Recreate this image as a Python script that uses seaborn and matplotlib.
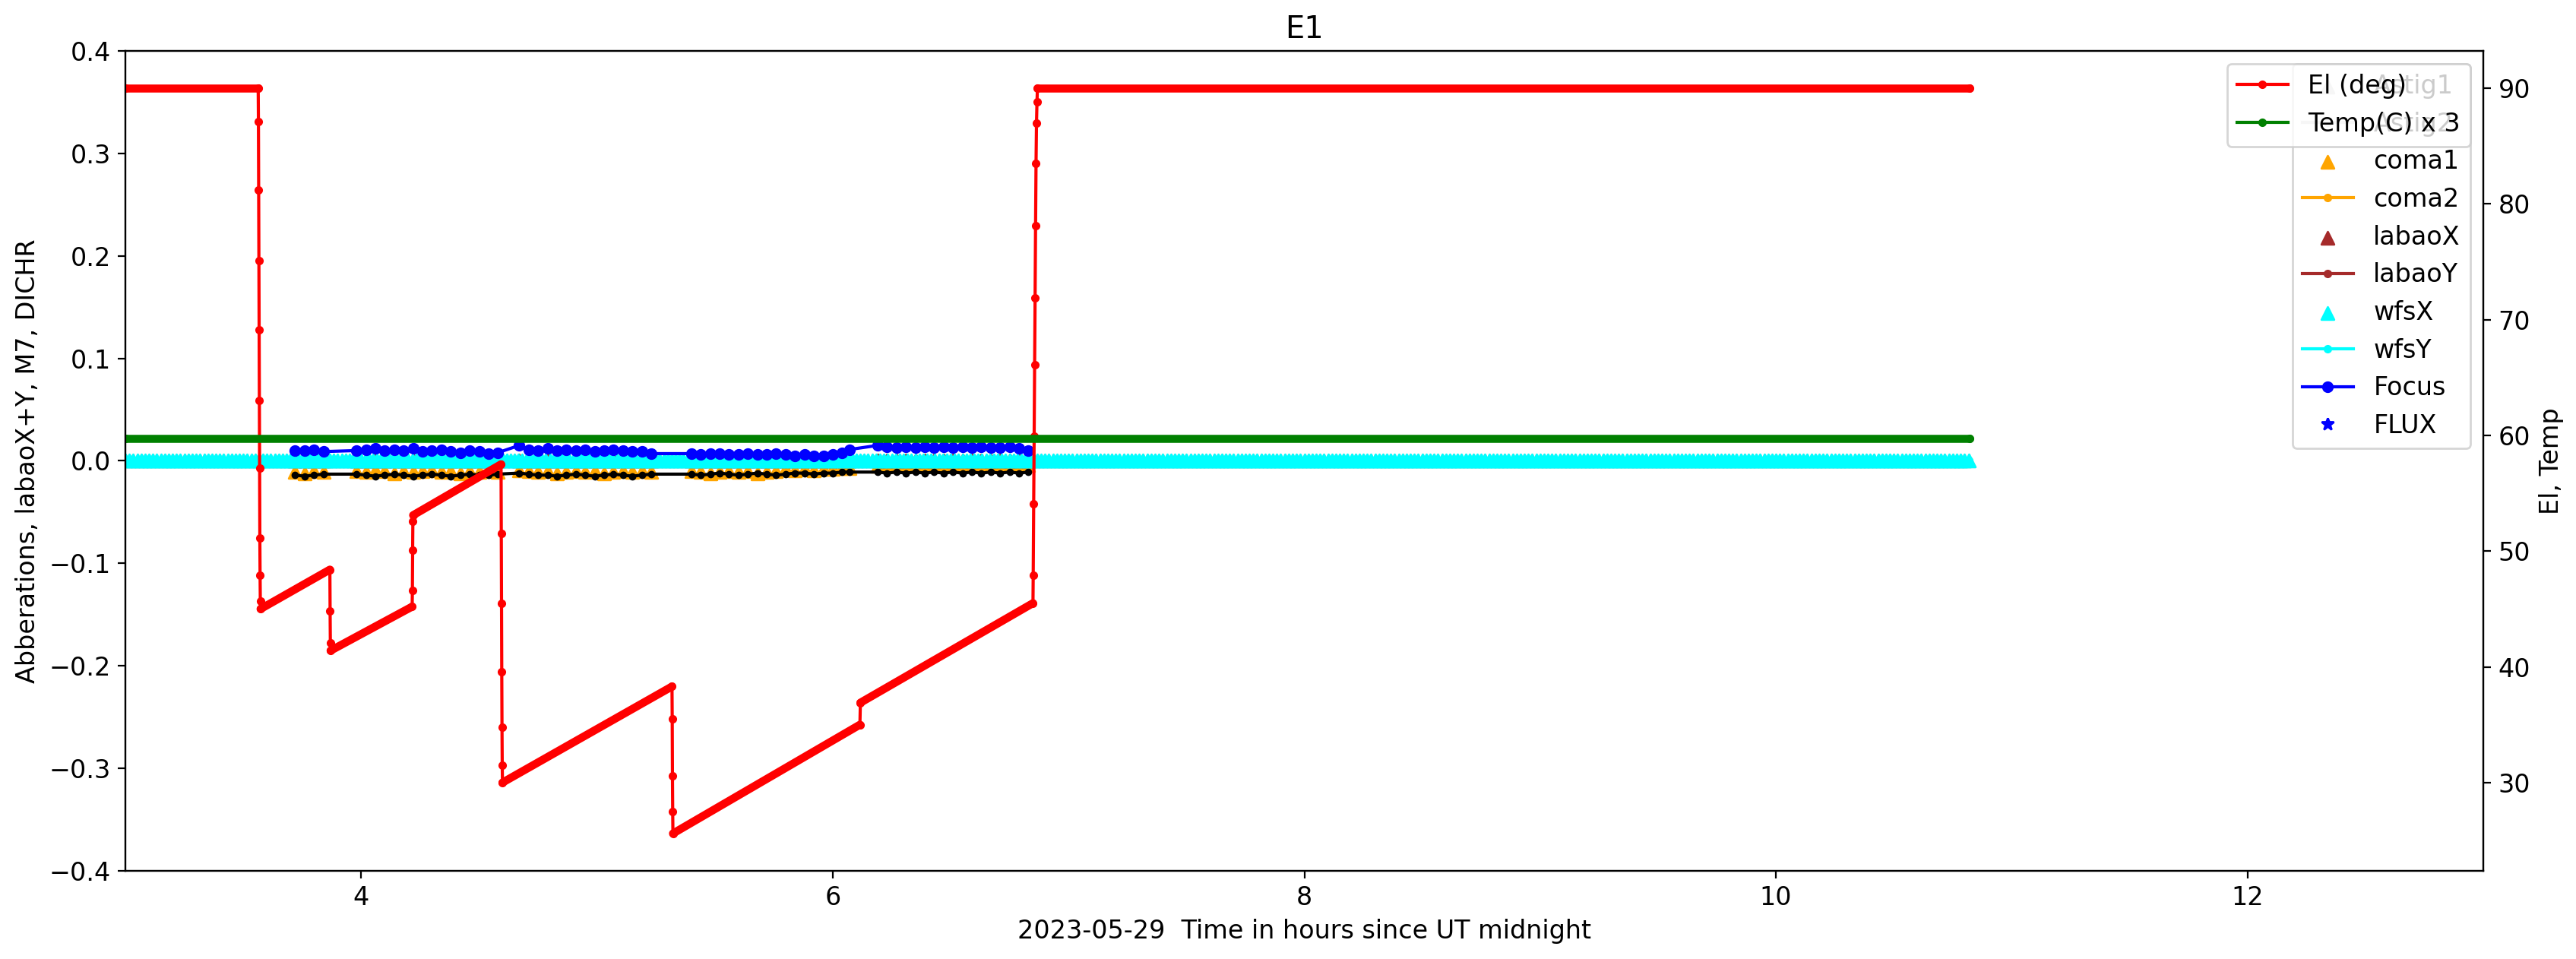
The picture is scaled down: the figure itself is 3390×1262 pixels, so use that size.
import numpy as np
import seaborn as sns
import matplotlib
matplotlib.use('Agg')
import matplotlib.pyplot as plt

# ------------------------------------------------------------
# data read off the E1 night (hours since UT midnight)
# ------------------------------------------------------------

# elevation: tracking end points plus the samples taken during the slews
el_time = [3.00, 3.563,
           3.564, 3.565, 3.566, 3.567, 3.568, 3.569, 3.570, 3.571, 3.572,
           3.573, 3.867,
           3.868, 3.869,
           3.870, 4.216,
           4.217, 4.218, 4.219,
           4.220, 4.593,
           4.594, 4.595, 4.596, 4.597, 4.598,
           4.599, 5.318,
           5.319, 5.320, 5.321,
           5.322, 6.115,
           6.117, 6.849,
           6.850, 6.852, 6.854, 6.856, 6.858, 6.860, 6.862, 6.864, 6.866,
           6.868, 10.82]
el_deg = [90.0, 90.0,
          87.1, 81.2, 75.1, 69.1, 63.0, 57.2, 51.1, 47.9, 45.7,
          45.0, 48.4,
          44.8, 42.1,
          41.4, 45.2,
          46.6, 50.1, 52.6,
          53.1, 57.5,
          51.5, 45.5, 39.6, 34.8, 31.5,
          30.0, 38.3,
          35.5, 30.6, 27.5,
          25.6, 35.0,
          36.9, 45.5,
          47.9, 54.1, 59.9, 66.1, 71.9, 78.1, 83.5, 87.0, 88.8,
          90.0, 90.0]

# dome temperature (plotted x 3 on the right axis)
temp_time = [3.00, 10.82]
temp_c = [19.9, 19.9]

# wavefront sensor / astig run on a one minute cadence over the whole night
wfs_start, wfs_stop, wfs_step = 3.0, 10.82, 1.0 / 60.0
wfs_x_level = 0.0
wfs_y_level = 0.0
astig_level = 0.0

# adaptive optics samples (focus, coma, M7) while on target
ao_time = [3.72, 3.76, 3.80, 3.84,
           3.98, 4.02, 4.06, 4.10, 4.14, 4.18, 4.22, 4.26, 4.30, 4.34, 4.38, 4.42, 4.46, 4.50, 4.54, 4.58,
           4.67, 4.71, 4.75, 4.79, 4.83, 4.87, 4.91, 4.95, 4.99, 5.03, 5.07, 5.11, 5.15, 5.19, 5.23,
           5.40, 5.44, 5.48, 5.52, 5.56, 5.60, 5.64, 5.68, 5.72, 5.76, 5.80, 5.84, 5.88, 5.92, 5.96, 6.00, 6.04, 6.07,
           6.19, 6.23, 6.27, 6.31, 6.35, 6.39, 6.43, 6.47, 6.51, 6.55, 6.59, 6.63, 6.67, 6.71, 6.75, 6.79, 6.83]
focus = [.010, .010, .011, .009,
         .010, .011, .012, .010, .011, .010, .012, .009, .010, .011, .009, .008, .010, .009, .007, .008,
         .015, .011, .010, .012, .010, .011, .010, .011, .009, .010, .011, .010, .009, .009, .007,
         .007, .006, .007, .007, .006, .006, .007, .006, .006, .007, .006, .005, .006, .005, .005, .006, .008, .011,
         .015, .014, .013, .014, .013, .014, .013, .014, .013, .014, .013, .014, .013, .013, .014, .012, .010]
coma1 = [-.011, -.012, -.010, -.011,
         -.010, -.011, -.009, -.010, -.012, -.010, -.011, -.010, -.009, -.011, -.010, -.012, -.010, -.011, -.010, -.011,
         -.009, -.010, -.011, -.010, -.012, -.011, -.010, -.011, -.010, -.012, -.011, -.010, -.011, -.010, -.011,
         -.010, -.011, -.012, -.011, -.010, -.011, -.010, -.012, -.011, -.010, -.008, -.009, -.008, -.009, -.008, -.008, -.007, -.007,
         -.005, -.004, -.005, -.004, -.005, -.004, -.005, -.004, -.004, -.005, -.004, -.005, -.004, -.004, -.005, -.004, -.004]
coma2_level = -0.002
labao_level = 0.0
m7 = [-.014, -.015, -.014, -.013,
      -.013, -.014, -.015, -.014, -.013, -.014, -.015, -.014, -.013, -.014, -.015, -.014, -.013, -.014, -.014, -.013,
      -.012, -.013, -.014, -.014, -.015, -.014, -.013, -.014, -.015, -.014, -.013, -.014, -.015, -.014, -.013,
      -.013, -.014, -.013, -.012, -.013, -.014, -.013, -.012, -.013, -.014, -.013, -.012, -.012, -.013, -.012, -.012, -.011, -.011,
      -.011, -.012, -.011, -.012, -.011, -.012, -.011, -.012, -.011, -.012, -.011, -.012, -.011, -.012, -.011, -.012, -.011]

# no flux points fall inside the plotted range
flux_time = []
flux = []


def dotted_line(ax, x, y, color, label=None, ms=6):
    # '.-' style line, as the raw logger plots do
    sns.lineplot(x=x, y=y, ax=ax, color=color, marker='.', markersize=ms,
                 markeredgecolor=color, markeredgewidth=1, linewidth=1.5,
                 label=label, sort=False, estimator=None, legend=False)


def triangles(ax, x, y, color, label=None):
    sns.scatterplot(x=x, y=y, ax=ax, color=color, marker='^', s=36,
                    edgecolor=color, linewidth=1, label=label, zorder=2, legend=False)


def dense_track(ax, t, v, color, gap=0.005):
    # long tracking stretches are sampled so densely that they read as a thick line
    t = np.asarray(t)
    v = np.asarray(v)
    for i in np.where(np.diff(t) > gap)[0]:
        ax.plot(t[i:i + 2], v[i:i + 2], color=color, linewidth=3.8, solid_capstyle='round')


plt.rcParams['font.size'] = 12

fig, ax = plt.subplots(figsize=(16.95, 6.31), dpi=200)
fig.subplots_adjust(left=0.0487, right=0.964, bottom=0.092, top=0.947)

wfs_time = np.arange(wfs_start, wfs_stop + 1e-6, wfs_step)
ao_t = np.asarray(ao_time)

# left axis: aberrations
triangles(ax, wfs_time, np.full_like(wfs_time, astig_level), 'lightgray', 'Astig1')
dotted_line(ax, wfs_time, np.full_like(wfs_time, astig_level), 'lightgray', 'Astig2')
triangles(ax, ao_t, coma1, 'orange', 'coma1')
dotted_line(ax, ao_t, np.full_like(ao_t, coma2_level), 'orange', 'coma2')
dotted_line(ax, ao_t, m7, 'black', ms=5)
triangles(ax, ao_t, np.full_like(ao_t, labao_level), 'brown', 'labaoX')
dotted_line(ax, ao_t, np.full_like(ao_t, labao_level), 'brown', 'labaoY')
triangles(ax, wfs_time, np.full_like(wfs_time, wfs_x_level), 'cyan', 'wfsX')
dotted_line(ax, wfs_time, np.full_like(wfs_time, wfs_y_level), 'cyan', 'wfsY')
dotted_line(ax, ao_t, focus, 'blue', 'Focus', ms=9)
ax.plot(flux_time, flux, '*', color='blue', linestyle='none', label='FLUX')

ax.set_xlim(3, 13)
ax.set_ylim(-0.4, 0.4)
ax.set_xlabel('2023-05-29  Time in hours since UT midnight')
ax.set_ylabel('Abberations, labaoX+Y, M7, DICHR')
ax.set_title('E1')
ax.legend(loc='upper right')

# right axis: elevation and temperature
ax2 = ax.twinx()
temp3 = np.asarray(temp_c) * 3
dotted_line(ax2, el_time, el_deg, 'red', 'El (deg)')
dotted_line(ax2, temp_time, temp3, 'green', 'Temp(C) x 3')
dense_track(ax2, el_time, el_deg, 'red')
dense_track(ax2, temp_time, temp3, 'green')
ax2.set_ylabel('El, Temp')
ax2.legend(loc='upper right')

fig.savefig('out.png', dpi=200)
